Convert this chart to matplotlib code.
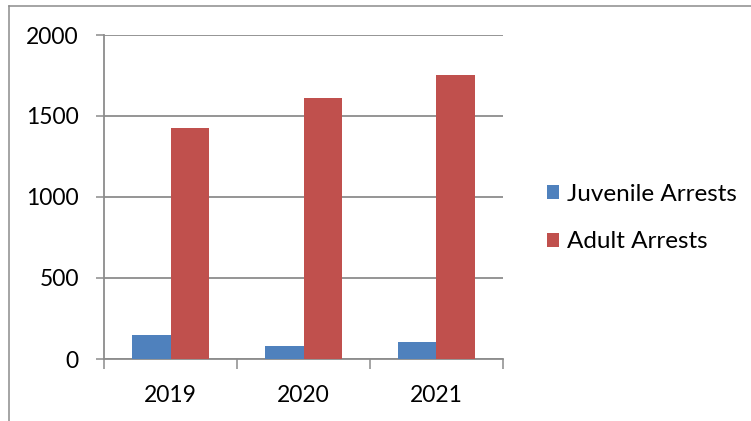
import numpy as np
import matplotlib.pyplot as plt
from matplotlib.lines import Line2D

plt.rcParams['font.family'] = ['Lato', 'DejaVu Sans']

# datos
years = ['2019', '2020', '2021']
juvenile = [146, 80, 103]
adult = [1424, 1609, 1753]
series_names = ['Juvenile Arrests', 'Adult Arrests']
colors = ['#4F81BD', '#C0504D']

fig = plt.figure(figsize=(7.51, 4.21), dpi=100)
ax = fig.add_axes([104 / 751, 1 - 359 / 421, 399 / 751, 324 / 421])

x = np.arange(len(years))
w = 0.286
ax.bar(x - w / 2, juvenile, w, color=colors[0], label=series_names[0], zorder=3)
ax.bar(x + w / 2, adult, w, color=colors[1], label=series_names[1], zorder=3)

grid_c = '#8C8C8C'
ax.set_xlim(-0.5, 2.5)
ax.set_ylim(0, 2000)
ax.set_yticks([0, 500, 1000, 1500, 2000])
ax.yaxis.grid(True, color=grid_c, lw=1.3, zorder=0)
ax.tick_params(axis='y', length=6, color=grid_c, width=1.1, labelsize=16.5, pad=12)

# ticks de categoria en los bordes, etiquetas en el centro
ax.set_xticks([-0.5, 0.5, 1.5, 2.5])
ax.set_xticklabels([])
ax.set_xticks(x, minor=True)
ax.set_xticklabels(years, minor=True)
ax.tick_params(axis='x', which='major', length=7, color=grid_c, width=1.1)
ax.tick_params(axis='x', which='minor', length=0, labelsize=16.5, pad=19)

for s in ['top', 'right']:
    ax.spines[s].set_visible(False)
for s in ['left', 'bottom']:
    ax.spines[s].set_color(grid_c)
    ax.spines[s].set_linewidth(1.3)

ax.legend(loc='center left', bbox_to_anchor=(537 / 751, 1 - 218 / 421),
          bbox_transform=fig.transFigure, frameon=False, fontsize=17.5,
          handlelength=0.5, handleheight=0.5, handletextpad=0.35,
          labelspacing=1.1, borderaxespad=0)

# marco exterior
fig.add_artist(Line2D([8.5 / 751, 8.5 / 751], [0, 1 - 6 / 421], color=grid_c, lw=1.1))
fig.add_artist(Line2D([8.5 / 751, 1], [1 - 6 / 421, 1 - 6 / 421], color=grid_c, lw=1.1))

fig.savefig('out.png', dpi=100)
